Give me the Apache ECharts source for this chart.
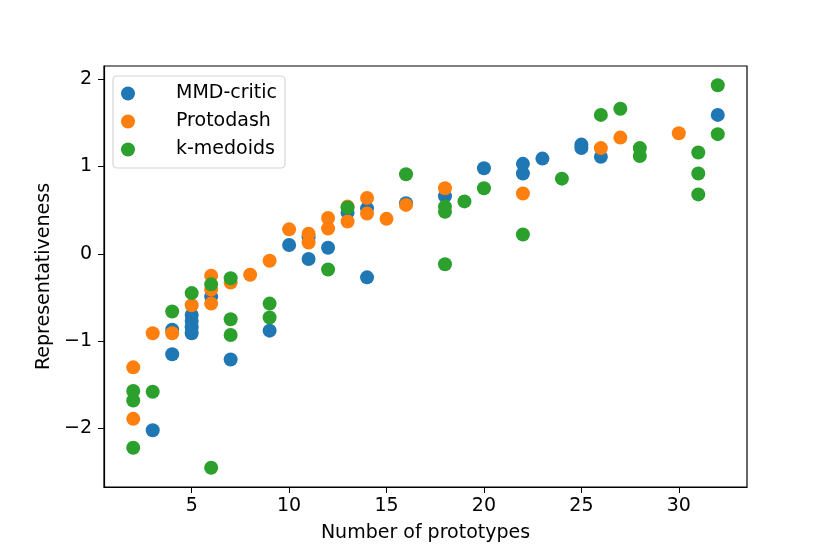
<!DOCTYPE html>
<html>
<head>
<meta charset="utf-8">
<script src="https://cdn.jsdelivr.net/npm/echarts@6/dist/echarts.min.js"></script>
<style>
html, body { margin: 0; padding: 0; background: #fff; }
#chart { width: 830px; height: 554px; }
</style>
</head>
<body>
<div id="chart"></div>
<script>
// MMD-critic
var mmdX = [3, 4, 4, 5, 5, 5, 5, 6, 7, 9, 10, 11, 11, 12, 13, 14, 14, 16, 18, 20, 22, 22, 23, 25, 25, 26, 32];
var mmdY = [-2.02, -0.87, -1.15, -0.70, -0.77, -0.84, -0.91, -0.49, -1.21, -0.88, 0.10, 0.19, -0.06, 0.07, 0.47, 0.52, -0.27, 0.58, 0.66, 0.98, 1.03, 0.92, 1.09, 1.25, 1.21, 1.11, 1.59];
// Protodash
var protoX = [2, 2, 3, 4, 5, 6, 6, 6, 7, 8, 9, 10, 11, 11, 12, 12, 13, 13, 14, 14, 15, 16, 18, 22, 26, 27, 30];
var protoY = [-1.30, -1.89, -0.91, -0.91, -0.59, -0.25, -0.41, -0.57, -0.33, -0.24, -0.08, 0.28, 0.23, 0.13, 0.41, 0.29, 0.54, 0.37, 0.64, 0.46, 0.40, 0.56, 0.75, 0.69, 1.21, 1.33, 1.38];
// k-medoids
var kmX = [2, 2, 2, 3, 4, 5, 6, 6, 7, 7, 7, 9, 9, 12, 13, 16, 18, 18, 18, 19, 20, 22, 24, 26, 27, 28, 28, 31, 31, 31, 32, 32];
var kmY = [-1.57, -1.68, -2.22, -1.58, -0.66, -0.45, -0.35, -2.45, -0.28, -0.75, -0.93, -0.57, -0.73, -0.18, 0.53, 0.91, 0.54, 0.48, -0.12, 0.60, 0.75, 0.22, 0.86, 1.59, 1.66, 1.21, 1.12, 1.16, 0.92, 0.68, 1.93, 1.37];

var xTicks = [5, 10, 15, 20, 25, 30];
var yTicks = [-2, -1, 0, 1, 2];

function pairs(xs, ys) {
    var out = [];
    for (var i = 0; i < xs.length; i++) out.push([xs[i], ys[i]]);
    return out;
}

var font = 'DejaVu Sans';
var chart = echarts.init(document.getElementById('chart'), null, { renderer: 'canvas' });

option = {
    backgroundColor: '#fff',
    animation: false,
    textStyle: { fontFamily: font },
    grid: {
        left: 104, right: 83, top: 66, bottom: 67,
        show: true, borderColor: '#000', borderWidth: 1.2, backgroundColor: 'transparent'
    },
    legend: {
        orient: 'vertical',
        left: 113, top: 76,
        padding: [8, 8, 9, 8],
        itemGap: 9,
        itemWidth: 38, itemHeight: 14,
        icon: 'circle',
        borderColor: '#d6d6d6', borderWidth: 1.2, borderRadius: 4,
        backgroundColor: 'rgba(255,255,255,0.8)',
        textStyle: { fontFamily: font, fontSize: 19, color: '#000', padding: [0, 0, 0, 24] },
        data: ['MMD-critic', 'Protodash', 'k-medoids']
    },
    xAxis: {
        type: 'value',
        min: 0.5, max: 33.5,
        name: 'Number of prototypes',
        nameLocation: 'middle',
        nameGap: 37,
        nameTextStyle: { fontFamily: font, fontSize: 19, color: '#000' },
        axisLine: { show: true, onZero: false, lineStyle: { color: '#000', width: 1.2 } },
        axisTick: { show: true, length: 6, lineStyle: { color: '#000' }, customValues: xTicks },
        axisLabel: { fontFamily: font, fontSize: 19, color: '#000', margin: 10, customValues: xTicks },
        splitLine: { show: false }
    },
    yAxis: {
        type: 'value',
        min: -2.67, max: 2.15,
        name: 'Representativeness',
        nameLocation: 'middle',
        nameGap: 50,
        nameTextStyle: { fontFamily: font, fontSize: 19, color: '#000' },
        axisLine: { show: true, onZero: false, lineStyle: { color: '#000', width: 1.2 } },
        axisTick: { show: true, length: 6, lineStyle: { color: '#000' }, customValues: yTicks },
        axisLabel: {
            fontFamily: font, fontSize: 19, color: '#000', margin: 12, customValues: yTicks,
            formatter: function (v) { return String(v).replace('-', '\u2212'); }
        },
        splitLine: { show: false }
    },
    series: [
        { name: 'MMD-critic', type: 'scatter', symbolSize: 14, itemStyle: { color: '#1f77b4', opacity: 1 }, data: pairs(mmdX, mmdY) },
        { name: 'Protodash', type: 'scatter', symbolSize: 14, itemStyle: { color: '#ff7f0e', opacity: 1 }, data: pairs(protoX, protoY) },
        { name: 'k-medoids', type: 'scatter', symbolSize: 14, itemStyle: { color: '#2ca02c', opacity: 1 }, data: pairs(kmX, kmY) }
    ]
};
chart.setOption(option);
</script>
</body>
</html>
